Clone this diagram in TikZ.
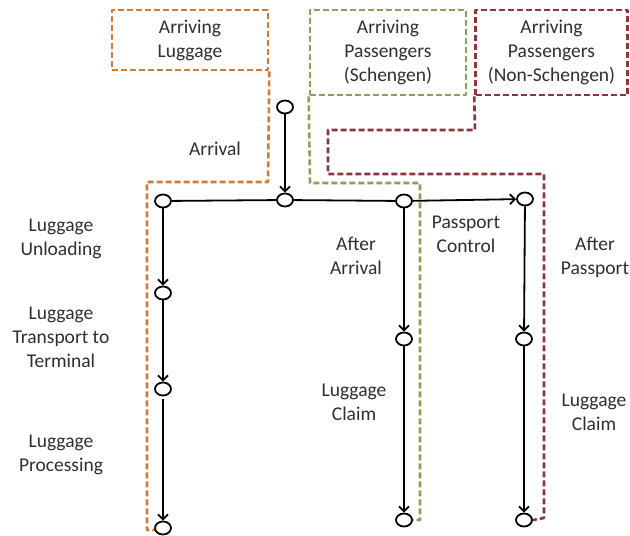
\documentclass[tikz,border=0pt]{standalone}
\usepackage{fontspec}
\setmainfont{Carlito}
\usetikzlibrary{arrows.meta, shapes.geometric}

\definecolor{lugorange}{RGB}{207,124,58}
\definecolor{schgreen}{RGB}{140,160,92}
\definecolor{nonred}{RGB}{140,54,60}

\begin{document}
\begin{tikzpicture}[x=1pt, y=-1pt, >={Straight Barb[length=5pt, width=10pt]}, line width=1.8pt,
  st/.style={draw, ellipse, minimum width=16pt, minimum height=13pt, inner sep=0pt, fill=white},
  t/.style={align=center, font=\fontsize{19.5}{24}\selectfont, text=black!82},
  zone/.style={line width=2.6pt, dash pattern=on 6pt off 3pt, line join=round}]
\useasboundingbox (0,0) rectangle (630,536);

% zones
\node[zone, draw=lugorange, minimum width=156pt, minimum height=60pt, t] (lugbox) at (190,40) {Arriving\\Luggage};
\node[zone, draw=schgreen, minimum width=156pt, minimum height=85pt, t] (schbox) at (388,52.5) {Arriving\\Passengers\\(Schengen)};
\node[zone, draw=nonred, minimum width=152pt, minimum height=85pt, t] (nonbox) at (551.5,52.5) {Arriving\\Passengers\\(Non-Schengen)};
\draw[zone, draw=lugorange] (lugbox.south east) -- (268,182) -- (147,182) -- (147,530) -- (156,530);
\draw[zone, draw=schgreen] (schbox.south west) -- (310,183) -- (420,183) -- (420,520) -- (412,520);
\draw[zone, draw=nonred] (nonbox.south west) -- (475,130) -- (328,130) -- (328,174) -- (544,174) -- (544,518) -- (533,520);

% states
\node[st] (top) at (285,107) {};
\node[st] (hub) at (285,200) {};
\node[st] (lug1) at (163,201) {};
\node[st] (lug2) at (163,293) {};
\node[st] (lug3) at (163,389) {};
\node[st] (lug4) at (163,528) {};
\node[st] (sch1) at (404,201) {};
\node[st] (sch2) at (404,339) {};
\node[st] (sch3) at (404,520) {};
\node[st] (non1) at (525,199) {};
\node[st] (non2) at (524,339) {};
\node[st] (non3) at (524,520) {};

\draw[->] (top) -- (hub);
\draw (lug1) -- (hub) -- (sch1);
\draw[->] (sch1) -- (non1);
\draw[->] (lug1) -- (lug2);
\draw[->] (lug2) -- (lug3);
\draw[->, shorten <=3pt] (lug3) -- (lug4);
\draw[->] (sch1) -- (sch2);
\draw[->] (sch2) -- (sch3);
\draw[->] (non1) -- (non2);
\draw[->] (non2) -- (non3);

% labels
\node[t] (arrlbl) at (215,149) {Arrival};
\node[t] (unloadlbl) at (61,239) {Luggage\\Unloading};
\node[t] (translbl) at (61,337) {Luggage\\Transport to\\Terminal};
\node[t] (proclbl) at (61,455) {Luggage\\Processing};
\node[t] (aftarrlbl) at (356,256) {After\\Arrival};
\node[t] (passlbl) at (466,234) {Passport\\Control};
\node[t] (aftpasslbl) at (595,257) {After\\Passport};
\node[t] (claimlbl) at (354,402) {Luggage\\Claim};
\node[t] (claimlbl2) at (594,412) {Luggage\\Claim};
\end{tikzpicture}
\end{document}
